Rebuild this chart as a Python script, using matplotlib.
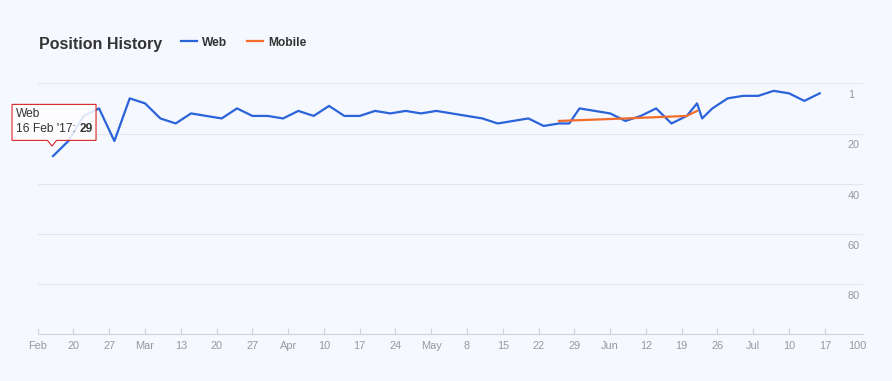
import matplotlib
matplotlib.use('Agg')
import matplotlib.pyplot as plt
import matplotlib.dates as mdates
import pandas as pd
from matplotlib.patches import Polygon
from matplotlib.lines import Line2D
from matplotlib.transforms import (Affine2D, ScaledTranslation,
                                   blended_transform_factory, offset_copy)

plt.rcParams['font.family'] = ['Liberation Sans', 'DejaVu Sans']

# Position history data (rank, lower is better)
web_dates = ['2017-02-16', '2017-02-19', '2017-02-22', '2017-02-25', '2017-02-28',
             '2017-03-03', '2017-03-06', '2017-03-09', '2017-03-12', '2017-03-15',
             '2017-03-18', '2017-03-21', '2017-03-24', '2017-03-27', '2017-03-30',
             '2017-04-02', '2017-04-05', '2017-04-08', '2017-04-11', '2017-04-14',
             '2017-04-17', '2017-04-20', '2017-04-23', '2017-04-26', '2017-04-29',
             '2017-05-02', '2017-05-05', '2017-05-08', '2017-05-11', '2017-05-14',
             '2017-05-17', '2017-05-20', '2017-05-23', '2017-05-26', '2017-05-28',
             '2017-05-30', '2017-06-02', '2017-06-05', '2017-06-08', '2017-06-11',
             '2017-06-14', '2017-06-17', '2017-06-20', '2017-06-22', '2017-06-23',
             '2017-06-25', '2017-06-28', '2017-07-01', '2017-07-04', '2017-07-07',
             '2017-07-10', '2017-07-13', '2017-07-16']
web_values = [29, 23, 13, 10, 23,
              6, 8, 14, 16, 12,
              13, 14, 10, 13, 13,
              14, 11, 13, 9, 13,
              13, 11, 12, 11, 12,
              11, 12, 13, 14, 16,
              15, 14, 17, 16, 16,
              10, 11, 12, 15, 13,
              10, 16, 13, 8, 14,
              10, 6, 5, 5, 3,
              4, 7, 4]

mobile_dates = ['2017-05-26', '2017-06-08', '2017-06-20', '2017-06-22']
mobile_values = [15, 14, 13, 11]

x_tick_start = '2017-02-13'
x_tick_labels = ['Feb', '20', '27', 'Mar', '13', '20', '27', 'Apr', '10', '17', '24',
                 'May', '8', '15', '22', '29', 'Jun', '12', '19', '26', 'Jul', '10', '17']
x_end = '2017-07-24 10:00'

y_ticks = [0, 20, 40, 60, 80, 100]
y_tick_labels = ['1', '20', '40', '60', '80', '100']

BG = '#f5f8ff'
WEB_COLOR = '#2b63d9'
MOBILE_COLOR = '#f26c2b'
TEXT = '#333333'
LABEL = '#999999'
AXIS = '#d0d4da'

W, H = 892, 381
fig = plt.figure(figsize=(W / 100, H / 100), dpi=100)
fig.patch.set_facecolor(BG)

left, right, top, bottom = 37.7, 862.7, 83.3, 334.3
ax = fig.add_axes([left / W, 1 - bottom / H, (right - left) / W, (bottom - top) / H])
ax.set_facecolor(BG)

web_x = pd.to_datetime(web_dates)
mob_x = pd.to_datetime(mobile_dates)
ax.plot(web_x, web_values, color=WEB_COLOR, lw=1.6, zorder=3, solid_joinstyle='round')
ax.plot(mob_x, mobile_values, color=MOBILE_COLOR, lw=1.6, zorder=4, solid_joinstyle='round')

ax.set_xlim(pd.Timestamp(x_tick_start), pd.Timestamp(x_end))
ax.set_ylim(100, 0)

# x axis: weekly ticks
tick_dates = pd.date_range(x_tick_start, periods=len(x_tick_labels), freq='7D')
ax.set_xticks(tick_dates)
ax.set_xticklabels(x_tick_labels)
ax.tick_params(axis='x', direction='in', length=4.3, width=0.8, color=AXIS,
               labelsize=7.9, labelcolor=LABEL, pad=5)

# y axis: gridlines with labels drawn under each line, on the right
ax.set_yticks(y_ticks)
ax.tick_params(axis='y', length=0, labelleft=False, labelright=False)
ax.yaxis.grid(True, color='#e6e6e6', lw=0.8)
ax.set_axisbelow(True)
lab_trans = offset_copy(blended_transform_factory(ax.transAxes, ax.transData),
                        fig=fig, x=0, y=-12, units='dots')
for val, lab in zip(y_ticks, y_tick_labels):
    ax.text((848 - left) / (right - left), val, lab, transform=lab_trans,
            ha='left', va='center', fontsize=7.9, color=LABEL)

for side in ['top', 'left', 'right']:
    ax.spines[side].set_visible(False)
ax.spines['bottom'].set_color(AXIS)
ax.spines['bottom'].set_linewidth(0.8)

# title + legend
fig.text(39 / W, 1 - 49.3 / H, 'Position History', fontsize=11.5, fontweight='bold',
         color=TEXT, va='baseline')
handles = [Line2D([], [], color=WEB_COLOR, lw=1.6), Line2D([], [], color=MOBILE_COLOR, lw=1.6)]
fig.legend(handles, ['Web', 'Mobile'], loc='center left', bbox_to_anchor=(181 / W, 1 - 42.7 / H),
           ncol=2, frameon=False, handlelength=1.33, handletextpad=0.42, columnspacing=1.67,
           borderpad=0, borderaxespad=0, prop={'weight': 'bold', 'size': 8.64}, labelcolor=TEXT)

# tooltip on the first web point
x0 = mdates.date2num(web_x[0])
y0 = web_values[0]
tip_trans = Affine2D() + ScaledTranslation(x0, y0, ax.transData)
verts = [(-41, 15.7), (-5.5, 15.7), (-1, 10), (3.5, 15.7), (43, 15.7), (43, 51.7), (-41, 51.7)]
tip = Polygon(verts, closed=True, transform=tip_trans, fc=(1, 1, 1, 0.85), ec='#d92424',
              lw=0.8, clip_on=False, zorder=6)
ax.add_patch(tip)
ax.annotate('Web', xy=(web_x[0], y0), xytext=(-37, 41.7), textcoords='offset pixels',
            ha='left', va='center', fontsize=8.64, color=TEXT, zorder=7)
ax.annotate("16 Feb '17:", xy=(web_x[0], y0), xytext=(-37, 26.7),
            textcoords='offset pixels', ha='left', va='center', fontsize=8.64,
            color=TEXT, zorder=7)
ax.annotate(str(y0), xy=(web_x[0], y0), xytext=(26.5, 26.7), textcoords='offset pixels',
            ha='left', va='center', fontsize=8.64, fontweight='bold', color=TEXT, zorder=7)

fig.savefig('out.png', dpi=100, facecolor=BG)
